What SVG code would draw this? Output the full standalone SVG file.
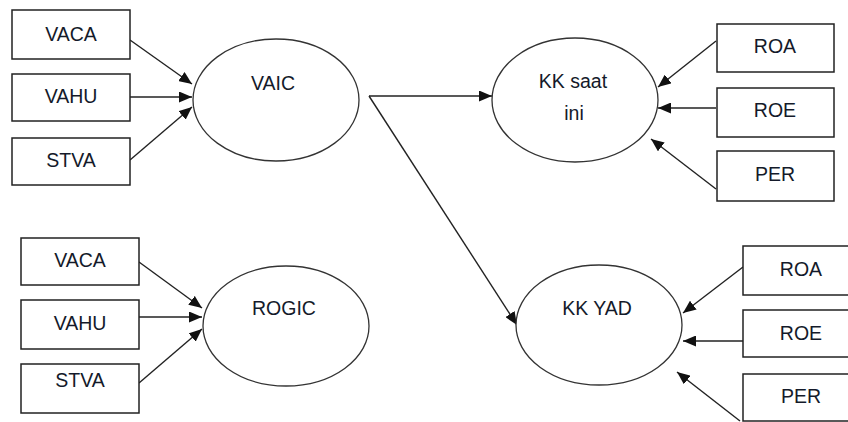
<svg xmlns="http://www.w3.org/2000/svg" width="848" height="422" viewBox="0 0 848 422">
<style>
.box{fill:#fff;stroke:#222;stroke-width:1.5}
.ell{fill:#fff;stroke:#333;stroke-width:1.3}
.lbl{font-family:"Liberation Sans",Arial,sans-serif;font-size:19.5px;fill:#141a2a;text-anchor:middle}
.conn line,.conn polyline{stroke:#222;stroke-width:1.4;fill:none}
.arr{marker-end:url(#ah)}
</style>
<defs>
<marker id="ah" markerUnits="userSpaceOnUse" markerWidth="13" markerHeight="11" refX="13" refY="5.5" orient="auto">
<path d="M0,0 L13,5.5 L0,11 z" fill="#111"/>
</marker>
</defs>
<rect width="848" height="422" fill="#fff"/>
<g class="conn">
<line class="arr" x1="130" y1="40" x2="192" y2="84"/>
<line class="arr" x1="130" y1="97" x2="192" y2="97"/>
<line class="arr" x1="130" y1="160" x2="192" y2="107"/>
<line class="arr" x1="139" y1="262" x2="202" y2="308"/>
<line class="arr" x1="139" y1="317" x2="202" y2="317"/>
<line class="arr" x1="139" y1="383" x2="202" y2="329"/>
<polyline class="arr" points="369,96 492,96"/>
<line class="arr" x1="369" y1="96" x2="517" y2="325"/>
<line class="arr" x1="716" y1="41" x2="658" y2="87"/>
<line class="arr" x1="716" y1="108" x2="658" y2="108"/>
<line class="arr" x1="716" y1="189" x2="651" y2="139"/>
<line class="arr" x1="743" y1="267" x2="683" y2="313"/>
<line class="arr" x1="743" y1="341" x2="683" y2="341"/>
<line class="arr" x1="740" y1="421" x2="677" y2="372"/>
</g>
<g id="vaca1"><rect class="box" x="12" y="10" width="118" height="49"/><text class="lbl" x="71" y="41">VACA</text></g>
<g id="vahu1"><rect class="box" x="12" y="74" width="118" height="47"/><text class="lbl" x="71" y="103">VAHU</text></g>
<g id="stva1"><rect class="box" x="12" y="138" width="118" height="47"/><text class="lbl" x="71" y="167">STVA</text></g>
<g id="vaic"><ellipse class="ell" cx="276" cy="100" rx="83" ry="61"/><text class="lbl" x="273" y="90">VAIC</text></g>
<g id="vaca2"><rect class="box" x="21" y="238" width="118" height="47"/><text class="lbl" x="80" y="267">VACA</text></g>
<g id="vahu2"><rect class="box" x="21" y="300" width="118" height="49"/><text class="lbl" x="80" y="330">VAHU</text></g>
<g id="stva2"><rect class="box" x="21" y="364" width="118" height="49"/><text class="lbl" x="80" y="387">STVA</text></g>
<g id="rogic"><ellipse class="ell" cx="286" cy="326" rx="83" ry="60"/><text class="lbl" x="284" y="315">ROGIC</text></g>
<g id="kksaat"><ellipse class="ell" cx="575" cy="100" rx="83" ry="62"/><text class="lbl" x="573" y="88">KK saat</text><text class="lbl" x="574" y="120">ini</text></g>
<g id="kkyad"><ellipse class="ell" cx="599" cy="325" rx="83" ry="60"/><text class="lbl" x="597" y="315">KK YAD</text></g>
<g id="roa1"><rect class="box" x="717" y="24" width="117" height="48"/><text class="lbl" x="775" y="53">ROA</text></g>
<g id="roe1"><rect class="box" x="717" y="88" width="117" height="49"/><text class="lbl" x="775" y="117">ROE</text></g>
<g id="per1"><rect class="box" x="717" y="151" width="117" height="50"/><text class="lbl" x="775" y="181">PER</text></g>
<g id="roa2"><rect class="box" x="743" y="246" width="117" height="49"/><text class="lbl" x="801" y="276">ROA</text></g>
<g id="roe2"><rect class="box" x="743" y="310" width="117" height="47"/><text class="lbl" x="801" y="340">ROE</text></g>
<g id="per2"><rect class="box" x="743" y="374" width="117" height="47"/><text class="lbl" x="801" y="403">PER</text></g>
</svg>
